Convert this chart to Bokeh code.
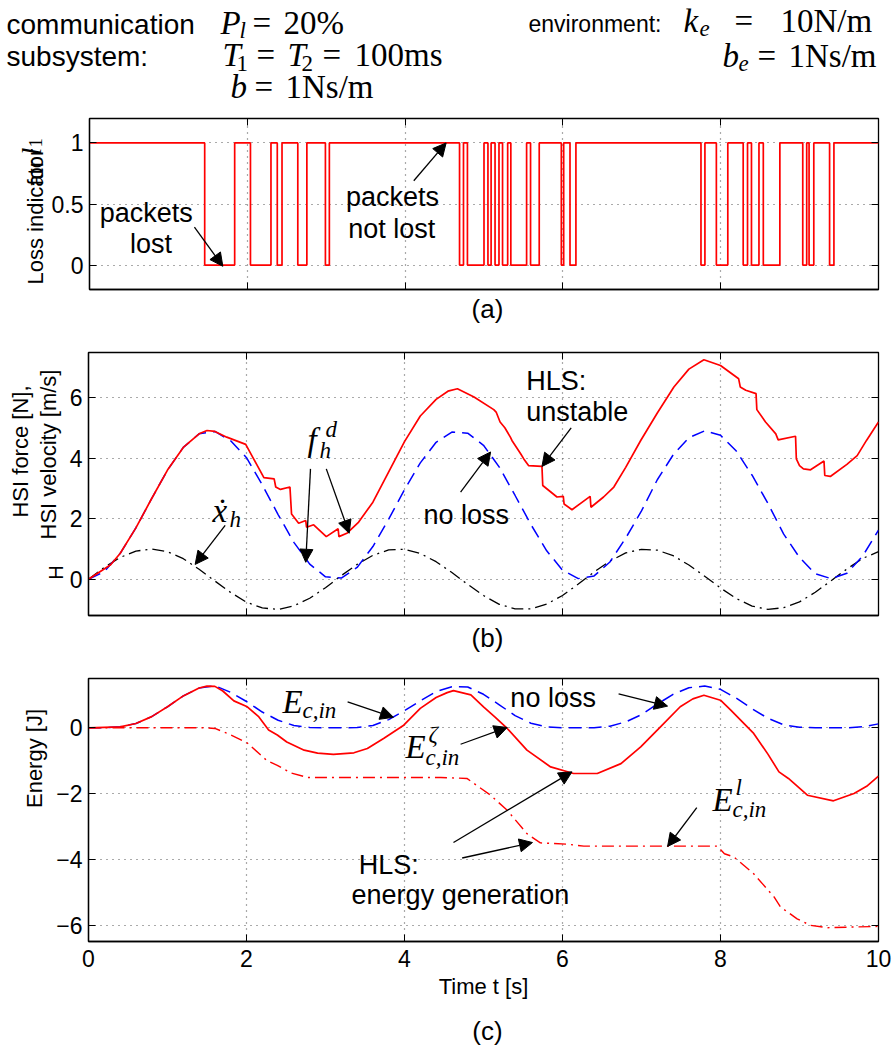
from bokeh.plotting import figure
from bokeh.layouts import column, row
from bokeh.models import Label, Arrow, NormalHead, LinearAxis, FixedTicker, Range1d
from bokeh.embed import file_html
from bokeh.resources import INLINE

SANS = "Liberation Sans"
SERIF = "Liberation Serif"

# ---------------- data ----------------
# (a) loss indicator l1: switching instants [s] and level after each instant
loss_t = [0.0, 1.46, 1.84, 2.04, 2.30, 2.38, 2.44, 2.64, 2.755, 2.99, 3.04,
          4.69, 4.74, 4.79, 5.00, 5.05, 5.09, 5.14, 5.19, 5.235, 5.30, 5.34,
          5.54, 5.59, 5.70, 5.98, 6.01, 6.09, 6.165, 7.75, 7.80, 7.945, 8.09,
          8.285, 8.34, 8.39, 8.485, 8.54, 8.75, 9.04, 9.09, 9.12, 9.18, 9.38,
          9.435, 10.0]
loss_v = [1, 0, 1, 0, 1, 0, 1, 0, 1, 0, 1,
          0, 1, 0, 1, 0, 1, 0, 1, 0, 1, 0,
          1, 0, 1, 0, 1, 0, 1, 0, 1, 0, 1,
          0, 1, 0, 1, 0, 1, 0, 1, 0, 1, 0,
          1, 1]

# (b) regular time grid for the smooth curves
t_grid = [round(0.2 * i, 1) for i in range(51)]
xdot_h = [0.00, 0.39, 0.72, 0.93, 1.00, 0.91, 0.68, 0.33, -0.06, -0.44,
          -0.76, -0.95, -1.00, -0.88, -0.63, -0.28, 0.12, 0.49, 0.79, 0.97,
          0.99, 0.85, 0.58, 0.22, -0.17, -0.54, -0.83, -0.98, -0.98, -0.82,
          -0.54, -0.16, 0.24, 0.60, 0.87, 0.99, 0.96, 0.78, 0.47, 0.10,
          -0.29, -0.64, -0.89, -1.00, -0.94, -0.75, -0.43, -0.05, 0.34, 0.69,
          0.91]
fhd_noloss = [0.00, 0.25, 0.85, 1.70, 2.67, 3.61, 4.36, 4.81, 4.89, 4.58,
              4.02, 3.12, 2.14, 1.22, 0.50, 0.08, 0.04, 0.39, 1.08, 1.99,
              2.96, 3.85, 4.53, 4.87, 4.83, 4.43, 3.71, 2.77, 1.81, 0.94,
              0.30, 0.02, 0.11, 0.57, 1.36, 2.26, 3.29, 4.11, 4.68, 4.91,
              4.76, 4.24, 3.44, 2.51, 1.49, 0.72, 0.18, 0.02, 0.20, 0.77,
              1.62]
fhd_t = [0.0, 0.28, 0.4, 0.6, 0.8, 1.0, 1.2, 1.4, 1.5, 1.6, 1.75, 1.99, 2.22,
         2.35, 2.37, 2.43, 2.55, 2.57, 2.66, 2.75, 2.76, 2.85, 3.01, 3.16,
         3.17, 3.27, 3.42, 3.6, 3.8, 4.0, 4.2, 4.4, 4.55, 4.67, 4.88, 5.13,
         5.16, 5.21, 5.27, 5.34, 5.36, 5.47, 5.51, 5.57, 5.74, 5.75, 5.93,
         6.01, 6.02, 6.12, 6.35, 6.36, 6.52, 6.65, 6.8, 6.99, 7.2, 7.41, 7.6,
         7.79, 8.0, 8.23, 8.25, 8.32, 8.45, 8.46, 8.57, 8.70, 8.73, 8.95,
         8.96, 9.0, 9.05, 9.14, 9.31, 9.32, 9.39, 9.60, 9.73, 9.85, 10.0]
fhd_loss = [0.00, 0.48, 0.85, 1.70, 2.67, 3.61, 4.36, 4.81, 4.92, 4.89, 4.70,
            4.46, 3.36, 3.32, 3.05, 2.97, 3.05, 2.16, 1.85, 1.94, 1.72, 1.80,
            1.41, 1.67, 1.41, 1.52, 1.89, 2.55, 3.55, 4.55, 5.40, 5.95, 6.22,
            6.30, 6.03, 5.61, 5.53, 5.20, 5.01, 4.70, 4.59, 4.15, 3.98, 3.76,
            3.73, 3.10, 2.72, 2.74, 2.49, 2.30, 2.74, 2.38, 2.72, 3.05, 3.70,
            4.59, 5.50, 6.36, 6.95, 7.26, 7.07, 6.63, 6.36, 6.25, 6.14, 5.61,
            5.20, 4.81, 4.61, 4.73, 3.98, 3.76, 3.65, 3.62, 3.91, 3.43, 3.40,
            3.80, 4.09, 4.60, 5.20]

# (c) energies
E_noloss = [0.00, 0.00, 0.03, 0.13, 0.34, 0.64, 0.97, 1.21, 1.28, 1.08,
            0.80, 0.48, 0.23, 0.07, 0.01, 0.00, 0.00, 0.01, 0.07, 0.25,
            0.52, 0.82, 1.10, 1.25, 1.24, 1.02, 0.70, 0.37, 0.14, 0.03,
            0.00, 0.00, 0.00, 0.05, 0.18, 0.40, 0.72, 1.02, 1.22, 1.27,
            1.17, 0.90, 0.58, 0.29, 0.09, 0.02, 0.00, 0.00, 0.00, 0.03,
            0.12]
Ez_t = [0.0, 0.4, 0.6, 0.8, 1.0, 1.2, 1.4, 1.5, 1.6, 1.7, 1.84, 2.01, 2.15,
        2.28, 2.39, 2.51, 2.73, 2.9, 3.1, 3.36, 3.53, 3.74, 3.99, 4.2, 4.4,
        4.54, 4.62, 4.84, 5.0, 5.15, 5.3, 5.55, 5.85, 6.14, 6.44, 6.74,
        6.99, 7.24, 7.49, 7.65, 7.79, 8.0, 8.13, 8.42, 8.6, 8.74, 8.86, 9.1,
        9.43, 9.69, 9.85, 10.0]
Ez = [0.00, 0.03, 0.13, 0.34, 0.64, 0.97, 1.21, 1.27, 1.26, 1.12, 0.82, 0.64,
      0.35, -0.07, -0.22, -0.43, -0.68, -0.77, -0.81, -0.76, -0.63, -0.32,
      0.08, 0.59, 0.92, 1.07, 1.13, 1.00, 0.64, 0.32, -0.02, -0.68, -1.19,
      -1.39, -1.39, -1.09, -0.58, 0.03, 0.64, 0.88, 0.99, 0.84, 0.54, -0.17,
      -0.80, -1.34, -1.54, -2.05, -2.22, -2.00, -1.78, -1.47]
El_t = [0.0, 1.5, 1.6, 1.76, 2.01, 2.26, 2.39, 2.56, 2.77, 3.32, 4.46, 4.79,
        5.09, 5.3, 5.55, 5.72, 6.06, 6.27, 7.96, 8.05, 8.17, 8.42, 8.68,
        8.76, 8.97, 9.14, 9.35, 10.0]
El = [0.00, 0.00, -0.02, -0.17, -0.46, -1.00, -1.14, -1.37, -1.51, -1.51,
      -1.51, -1.54, -2.05, -2.51, -3.22, -3.50, -3.54, -3.60, -3.60, -3.83,
      -3.93, -4.44, -5.15, -5.45, -5.81, -6.01, -6.08, -6.04]

x_ticks = [0, 2, 4, 6, 8, 10]
a_ticks, a_labels = [0, 0.5, 1], ["0", "0.5", "1"]
b_ticks, b_labels = [0, 2, 4, 6], ["0", "2", "4", "6"]
c_ticks, c_labels = [-6, -4, -2, 0], ["\u22126", "\u22124", "\u22122", "0"]

# ---------------- layout helpers ----------------
W = 893
FL, FR = 88, 878
MS = 33   # math size
SS = 23   # sub/superscript size


def hidden_axis(ticks):
    return LinearAxis(ticker=FixedTicker(ticks=ticks), major_label_text_font_size="0px",
                      major_label_text_color=None, major_tick_in=7, major_tick_out=0,
                      minor_tick_line_color=None, axis_line_color=None, major_label_standoff=0)


def panel_fig(strip_w, height, top, bottom, yr, yticks, ylabels, show_x_labels):
    p = figure(width=W - strip_w, height=height, x_range=Range1d(0, 10), y_range=Range1d(*yr),
               output_backend="svg", toolbar_location=None,
               min_border_left=FL - strip_w, min_border_right=W - FR,
               min_border_top=top, min_border_bottom=bottom)
    p.outline_line_color = "black"
    p.outline_line_width = 1.3
    p.xaxis.ticker = FixedTicker(ticks=x_ticks)
    p.yaxis.ticker = FixedTicker(ticks=yticks)
    p.yaxis.major_label_overrides = {v: s for v, s in zip(yticks, ylabels)}
    for ax in list(p.xaxis) + list(p.yaxis):
        ax.major_tick_in = 7
        ax.major_tick_out = 0
        ax.minor_tick_line_color = None
        ax.axis_line_color = "black"
        ax.axis_line_width = 1.3
        ax.major_tick_line_color = "black"
        ax.major_label_text_font = SANS
        ax.major_label_text_font_size = "23px"
        ax.major_label_text_color = "black"
    p.yaxis.major_label_standoff = 6
    p.xaxis.major_label_standoff = 8
    if not show_x_labels:
        p.xaxis.major_label_text_font_size = "0px"
        p.xaxis.major_label_text_color = None
        p.xaxis.major_label_standoff = 0
    p.add_layout(hidden_axis(x_ticks), "above")
    p.add_layout(hidden_axis(yticks), "right")
    p.grid.grid_line_color = "#555555"
    p.grid.grid_line_dash = "1 5"
    p.grid.grid_line_width = 1.2
    return p


def text_fig(w, h):
    p = figure(width=w, height=h, x_range=Range1d(0, 1), y_range=Range1d(0, 1),
               output_backend="svg", toolbar_location=None,
               x_axis_location=None, y_axis_location=None,
               min_border_left=0, min_border_right=0, min_border_top=0, min_border_bottom=0)
    p.grid.visible = False
    p.outline_line_color = None
    return p


def plab(p, x0, fbot, cx, cy, text, size, font=SANS, style="normal", align="left", angle=0):
    """label in page pixels: (cx, cy) = anchor on the text baseline;
    x0 = page x of the frame's left edge, fbot = page y of the frame's bottom edge"""
    shift = size / 3.0  # bokeh draws the alphabetic baseline about size/3 lower
    if angle == 0:
        sx, sy = cx - x0, fbot - cy + shift
    else:
        sx, sy = cx - x0 - shift, fbot - cy
    p.add_layout(Label(x=sx, y=sy, x_units="screen", y_units="screen", text=text,
                       text_font=font, text_font_size=f"{size}px", text_font_style=style,
                       text_align=align, text_baseline="alphabetic", angle=angle,
                       angle_units="deg", text_color="black"))


def dlab(p, x, y, text, size=27, align="left"):
    p.add_layout(Label(x=x, y=y, y_offset=size / 3.0, text=text, text_font=SANS,
                       text_font_size=f"{size}px", text_align=align,
                       text_baseline="alphabetic", text_color="black"))


def arrow(p, x0, y0, x1, y1):
    p.add_layout(Arrow(end=NormalHead(size=13, fill_color="black", line_color="black", line_width=1),
                       x_start=x0, y_start=y0, x_end=x1, y_end=y1,
                       line_color="black", line_width=1.3))


# ---------------- header (page y 0..110) ----------------
hd = text_fig(W, 110)
H0, HB = 0, 110
plab(hd, H0, HB, 6, 33, "communication", 28)
plab(hd, H0, HB, 6, 65, "subsystem:", 28)
plab(hd, H0, HB, 220, 33, "P", MS, SERIF, "italic")
plab(hd, H0, HB, 239, 38, "l", SS, SERIF, "italic")
plab(hd, H0, HB, 252, 33, "=", MS, SERIF)
plab(hd, H0, HB, 283, 33, "20%", MS, SERIF)
plab(hd, H0, HB, 222, 65, "T", MS, SERIF, "italic")
plab(hd, H0, HB, 236, 71, "1", SS, SERIF)
plab(hd, H0, HB, 256, 65, "=", MS, SERIF)
plab(hd, H0, HB, 287, 65, "T", MS, SERIF, "italic")
plab(hd, H0, HB, 301, 71, "2", SS, SERIF)
plab(hd, H0, HB, 322, 65, "=", MS, SERIF)
plab(hd, H0, HB, 354, 65, "100ms", MS, SERIF)
plab(hd, H0, HB, 230, 97, "b", MS, SERIF, "italic")
plab(hd, H0, HB, 254, 97, "=", MS, SERIF)
plab(hd, H0, HB, 285, 97, "1Ns/m", MS, SERIF)
plab(hd, H0, HB, 528, 31, "environment:", 23)
plab(hd, H0, HB, 683, 31, "k", MS, SERIF, "italic")
plab(hd, H0, HB, 699, 36, "e", SS, SERIF, "italic")
plab(hd, H0, HB, 734, 31, "=", MS, SERIF)
plab(hd, H0, HB, 780, 31, "10N/m", MS, SERIF)
plab(hd, H0, HB, 722, 66, "b", MS, SERIF, "italic")
plab(hd, H0, HB, 738, 71, "e", SS, SERIF, "italic")
plab(hd, H0, HB, 757, 66, "=", MS, SERIF)
plab(hd, H0, HB, 788, 66, "1Ns/m", MS, SERIF)

# ---------------- (a): page y 110..292 ----------------
SWA = 48
pa = panel_fig(SWA, 182, 8, 3, (-0.2, 1.2), a_ticks, a_labels, False)
pa.step(loss_t, loss_v, mode="after", line_color="#ff0000", line_width=1.7)
dlab(pa, 0.72, 0.35, "packets", align="center")
dlab(pa, 0.78, 0.10, "lost", align="center")
arrow(pa, 1.33, 0.31, 1.69, -0.01)
dlab(pa, 3.84, 0.48, "packets", align="center")
dlab(pa, 3.83, 0.22, "not lost", align="center")
arrow(pa, 4.11, 0.69, 4.52, 1.0)
sa = text_fig(SWA, 182)
plab(sa, 0, 292, 42, 287, "Loss indicator", 22, angle=90)
plab(sa, 0, 292, 42, 188, "for", 22, angle=90)
plab(sa, 0, 292, 40, 158, "l", 28, SERIF, "italic", angle=90)
plab(sa, 0, 292, 41, 150, "1", 19, SERIF, angle=90)
la = text_fig(W, 38)
plab(la, 0, 330, 487, 317, "(a)", 26, align="center")

# ---------------- (b): page y 330..619 ----------------
SWB = 66
pb = panel_fig(SWB, 289, 22, 4, (-1.2, 7.5), b_ticks, b_labels, False)
pb.line(t_grid, xdot_h, line_color="black", line_width=1.3, line_dash="12 5 2 5")
pb.line(t_grid, fhd_noloss, line_color="#0000ff", line_width=1.5, line_dash="13 7")
pb.line(fhd_t, fhd_loss, line_color="#ff0000", line_width=1.7)
FB = 615
plab(pb, FL, FB, 212, 521, "x", MS, SERIF, "italic")
plab(pb, FL, FB, 222, 521, "\u02d9", MS, SERIF, align="center")
plab(pb, FL, FB, 229, 527, "h", SS, SERIF, "italic")
arrow(pb, 1.73, 1.78, 1.35, 0.49)
plab(pb, FL, FB, 307, 450, "f", MS, SERIF, "italic")
plab(pb, FL, FB, 319, 458, "h", SS, SERIF, "italic")
plab(pb, FL, FB, 325, 437, "d", SS, SERIF, "italic")
arrow(pb, 2.81, 3.65, 2.75, 0.56)
arrow(pb, 3.01, 3.65, 3.30, 1.52)
dlab(pb, 4.24, 1.83, "no loss")
arrow(pb, 4.71, 2.88, 5.09, 4.21)
dlab(pb, 5.54, 6.27, "HLS:")
dlab(pb, 5.54, 5.22, "unstable")
arrow(pb, 6.11, 5.01, 5.74, 3.73)
sb = text_fig(SWB, 289)
plab(sb, 0, 619, 27, 455, "HSI force [N],", 22, angle=90, align="center")
plab(sb, 0, 619, 55, 458, "HSI velocity [m/s]", 22, angle=90, align="center")
plab(sb, 0, 619, 62, 576, "H", 20, angle=90, align="center")
lb = text_fig(W, 41)
plab(lb, 0, 660, 487, 646, "(b)", 26, align="center")

# ---------------- (c): page y 660..1011 ----------------
SWC = 50
pc = panel_fig(SWC, 351, 18, 70, (-6.5, 1.5), c_ticks, c_labels, True)
pc.line(t_grid, E_noloss, line_color="#0000ff", line_width=1.5, line_dash="13 7")
pc.line(Ez_t, Ez, line_color="#ff0000", line_width=1.7)
pc.line(El_t, El, line_color="#ff0000", line_width=1.4, line_dash="12 5 2 5")
xb = pc.below[0]
xb.axis_label = "Time t [s]"
xb.axis_label_text_font = SANS
xb.axis_label_text_font_size = "22px"
xb.axis_label_text_font_style = "normal"
xb.axis_label_text_color = "black"
xb.axis_label_standoff = 4
FC = 941
plab(pc, FL, FC, 282, 712, "E", MS, SERIF, "italic")
plab(pc, FL, FC, 302, 718, "c,in", SS, SERIF, "italic")
arrow(pc, 3.28, 0.79, 3.86, 0.32)
dlab(pc, 5.34, 0.64, "no loss")
arrow(pc, 6.71, 1.03, 7.33, 0.66)
plab(pc, FL, FC, 405, 757, "E", MS, SERIF, "italic")
plab(pc, FL, FC, 428, 742, "\u03b6", SS, SERIF, "italic")
plab(pc, FL, FC, 425, 765, "c,in", SS, SERIF, "italic")
arrow(pc, 4.71, -0.50, 5.30, 0.01)
dlab(pc, 3.42, -4.46, "HLS:")
dlab(pc, 3.33, -5.35, "energy generation")
arrow(pc, 4.62, -3.49, 6.12, -1.34)
arrow(pc, 4.73, -3.96, 5.62, -3.49)
plab(pc, FL, FC, 712, 810, "E", MS, SERIF, "italic")
plab(pc, FL, FC, 735, 795, "l", SS, SERIF, "italic")
plab(pc, FL, FC, 732, 817, "c,in", SS, SERIF, "italic")
arrow(pc, 7.70, -2.43, 7.33, -3.61)
sc = text_fig(SWC, 351)
plab(sc, 0, 1011, 41, 828, "Energy [J]", 22, angle=90, align="center")
lc = text_fig(W, 39)
plab(lc, 0, 1050, 487, 1039, "(c)", 26, align="center")

layout = column(hd, row(sa, pa, spacing=0), la, row(sb, pb, spacing=0), lb,
                row(sc, pc, spacing=0), lc, spacing=0)
open("out.html", "w").write(file_html(layout, INLINE))
